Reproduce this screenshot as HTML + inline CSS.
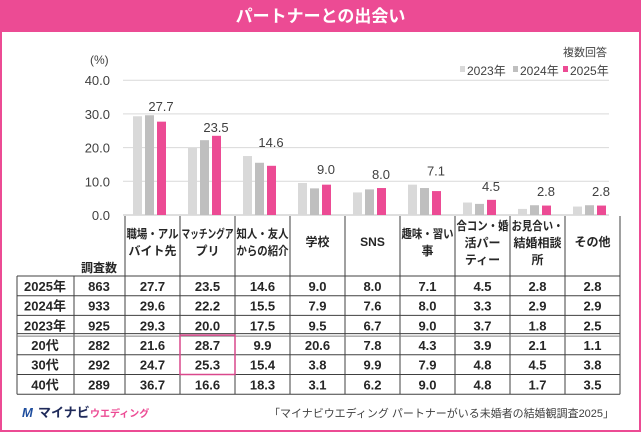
<!DOCTYPE html>
<html><head><meta charset="utf-8">
<style>
body{margin:0;width:641px;height:432px;overflow:hidden;background:#fff;font-family:"Liberation Sans","Noto Sans CJK JP",sans-serif;}
#frame{position:absolute;left:0;top:0;width:637px;height:428px;border:2px solid #ec4b94;}
#title{position:absolute;left:0;top:2px;width:641px;height:30px;background:#ec4b94;color:#fff;font-weight:bold;font-size:17px;text-align:center;line-height:30px;}
svg{position:absolute;left:0;top:0;}
text{font-family:"Liberation Sans","Noto Sans CJK JP",sans-serif;}
</style></head><body>
<div id="frame"></div>
<div id="title">パートナーとの出会い</div>
<svg id="c" width="641" height="432"></svg>
<script>
const categories=[["職場・アル","バイト先"],["マッチングア","プリ"],["知人・友人","からの紹介"],["学校"],["SNS"],["趣味・習い","事"],["合コン・婚","活パー","ティー"],["お見合い・","結婚相談","所"],["その他"]];
const seriesNames=["2023年","2024年","2025年"];
const v2023=[29.3,20.0,17.5,9.5,6.7,9.0,3.7,1.8,2.5];
const v2024=[29.6,22.2,15.5,7.9,7.6,8.0,3.3,2.9,2.9];
const v2025=[27.7,23.5,14.6,9.0,8.0,7.1,4.5,2.8,2.8];
const yTicks=[0,10,20,30,40];
const rowLabels=["2025年","2024年","2023年","20代","30代","40代"];
const counts=[863,933,925,282,292,289];
const rows=[v2025,v2024,v2023,
[21.6,28.7,9.9,20.6,7.8,4.3,3.9,2.1,1.1],
[24.7,25.3,15.4,3.8,9.9,7.9,4.8,4.5,3.8],
[36.7,16.6,18.3,3.1,6.2,9.0,4.8,1.7,3.5]];
const colors=["#d9d9d9","#bfbfbf","#ec4b94"];
const svg=document.getElementById('c');const NS="http://www.w3.org/2000/svg";
function el(t,a,txt){const e=document.createElementNS(NS,t);for(const k in a)e.setAttribute(k,a[k]);if(txt!==undefined)e.textContent=txt;svg.appendChild(e);return e;}
const x0=125,cw=55,y0=215,ppu=3.37;
const y=v=>y0-v*ppu; const xc=i=>x0+i*cw;
yTicks.forEach(t=>{
 const l=el('line',{x1:123,x2:609,y1:y(t),y2:y(t),stroke:t?'#d9d9d9':'#bfbfbf','stroke-width':1});
 
 const tx=el('text',{x:110,y:y(t)+5,'font-size':13,'text-anchor':'end',fill:'#404040'},t.toFixed(1));
 
});
let u=el('text',{x:90,y:64,'font-size':12,fill:'#404040'},'(%)');
let m=el('text',{x:607,y:56,'font-size':11,'text-anchor':'end',fill:'#404040'},'複数回答');
const lx=[460,513,563];
seriesNames.forEach((n,i)=>{
 const r=el('rect',{x:lx[i],y:66,width:5,height:6,fill:colors[i]});
 const t=el('text',{x:lx[i]+7,y:75,'font-size':12,fill:'#404040'},n);
});
[v2023,v2024,v2025].forEach((s,si)=>s.forEach((v,i)=>{
 const b=el('rect',{x:xc(i)+8+si*12,y:y(v),width:9,height:v*ppu,fill:colors[si]});
 
}));
v2025.forEach((v,i)=>{const t=el('text',{x:xc(i)+36,y:y(Math.max(v,v2024[i],v2023[i]))-(i<2?4:9),'font-size':13,'text-anchor':'middle',fill:'#404040'},v.toFixed(1));
 });
const tTop=216,hB=276,rh=19.7,tL=17,c1=74,tR=620;
const rowY=i=>hB+i*rh;
function ln(a,n){const l=el('line',a);}
for(let i=0;i<=9;i++)ln({x1:xc(i),x2:xc(i),y1:tTop,y2:hB+6*rh,stroke:'#404040','stroke-width':1},'table-col-line');
ln({x1:tL,x2:tL,y1:hB,y2:hB+6*rh,stroke:'#404040'},'table-col-line');
ln({x1:c1,x2:c1,y1:hB,y2:hB+6*rh,stroke:'#404040'},'table-col-line');
for(let r=0;r<=6;r++){
 if(r===3){ln({x1:tL,x2:tR,y1:rowY(3)-1.5,y2:rowY(3)-1.5,stroke:'#404040'},'table-row-line');ln({x1:tL,x2:tR,y1:rowY(3)+1,y2:rowY(3)+1,stroke:'#808080'},'table-row-line');}
 else ln({x1:tL,x2:tR,y1:rowY(r),y2:rowY(r),stroke:'#404040'},'table-row-line');
}
categories.forEach((c,i)=>{
 const n=c.length,st=246-(n-1)*8;
 c.forEach((s,k)=>{const a={x:xc(i)+27.5,y:st+k*17,'font-size':12,'font-weight':'bold','text-anchor':'middle',fill:'#262626'};
  if(s.length>=5){a.textLength=52;a.lengthAdjust='spacingAndGlyphs';}
  const t=el('text',a,s);
  });
});
let hc=el('text',{x:99,y:272,'font-size':12,'font-weight':'bold','text-anchor':'middle',fill:'#262626'},'調査数');
rows.forEach((r,ri)=>{
 const cy=rowY(ri)+rh/2+5;
 let t=el('text',{x:45,y:cy,'font-size':13,'font-weight':'bold','text-anchor':'middle',fill:'#262626'},rowLabels[ri]);
 t=el('text',{x:99,y:cy,'font-size':13,'font-weight':'bold','text-anchor':'middle',fill:'#262626'},counts[ri]);
 r.forEach((v,i)=>{const c=el('text',{x:xc(i)+27.5,y:cy,'font-size':13,'font-weight':'bold','text-anchor':'middle',fill:'#262626'},v.toFixed(1));
  });
});
let hl=el('rect',{x:xc(1),y:rowY(3),width:cw,height:2*rh,fill:'none',stroke:'#d9488c','stroke-width':1.5});
let lg=el('text',{x:22,y:417,'font-size':13,'font-weight':'bold',fill:'#1f4e9e','font-style':'italic'},'M');
let lt=el('text',{x:38,y:417,'font-size':13,'font-weight':'bold',fill:'#1f2a5a'},'マイナビ');
let lw=el('text',{x:90,y:417,'font-size':10,'font-weight':'bold',fill:'#ec4b94'},'ウエディング');
let src=el('text',{x:614,y:417,'font-size':11,'text-anchor':'end',fill:'#404040',textLength:345,lengthAdjust:'spacingAndGlyphs'},'「マイナビウエディング パートナーがいる未婚者の結婚観調査2025」');
</script>
</body></html>
